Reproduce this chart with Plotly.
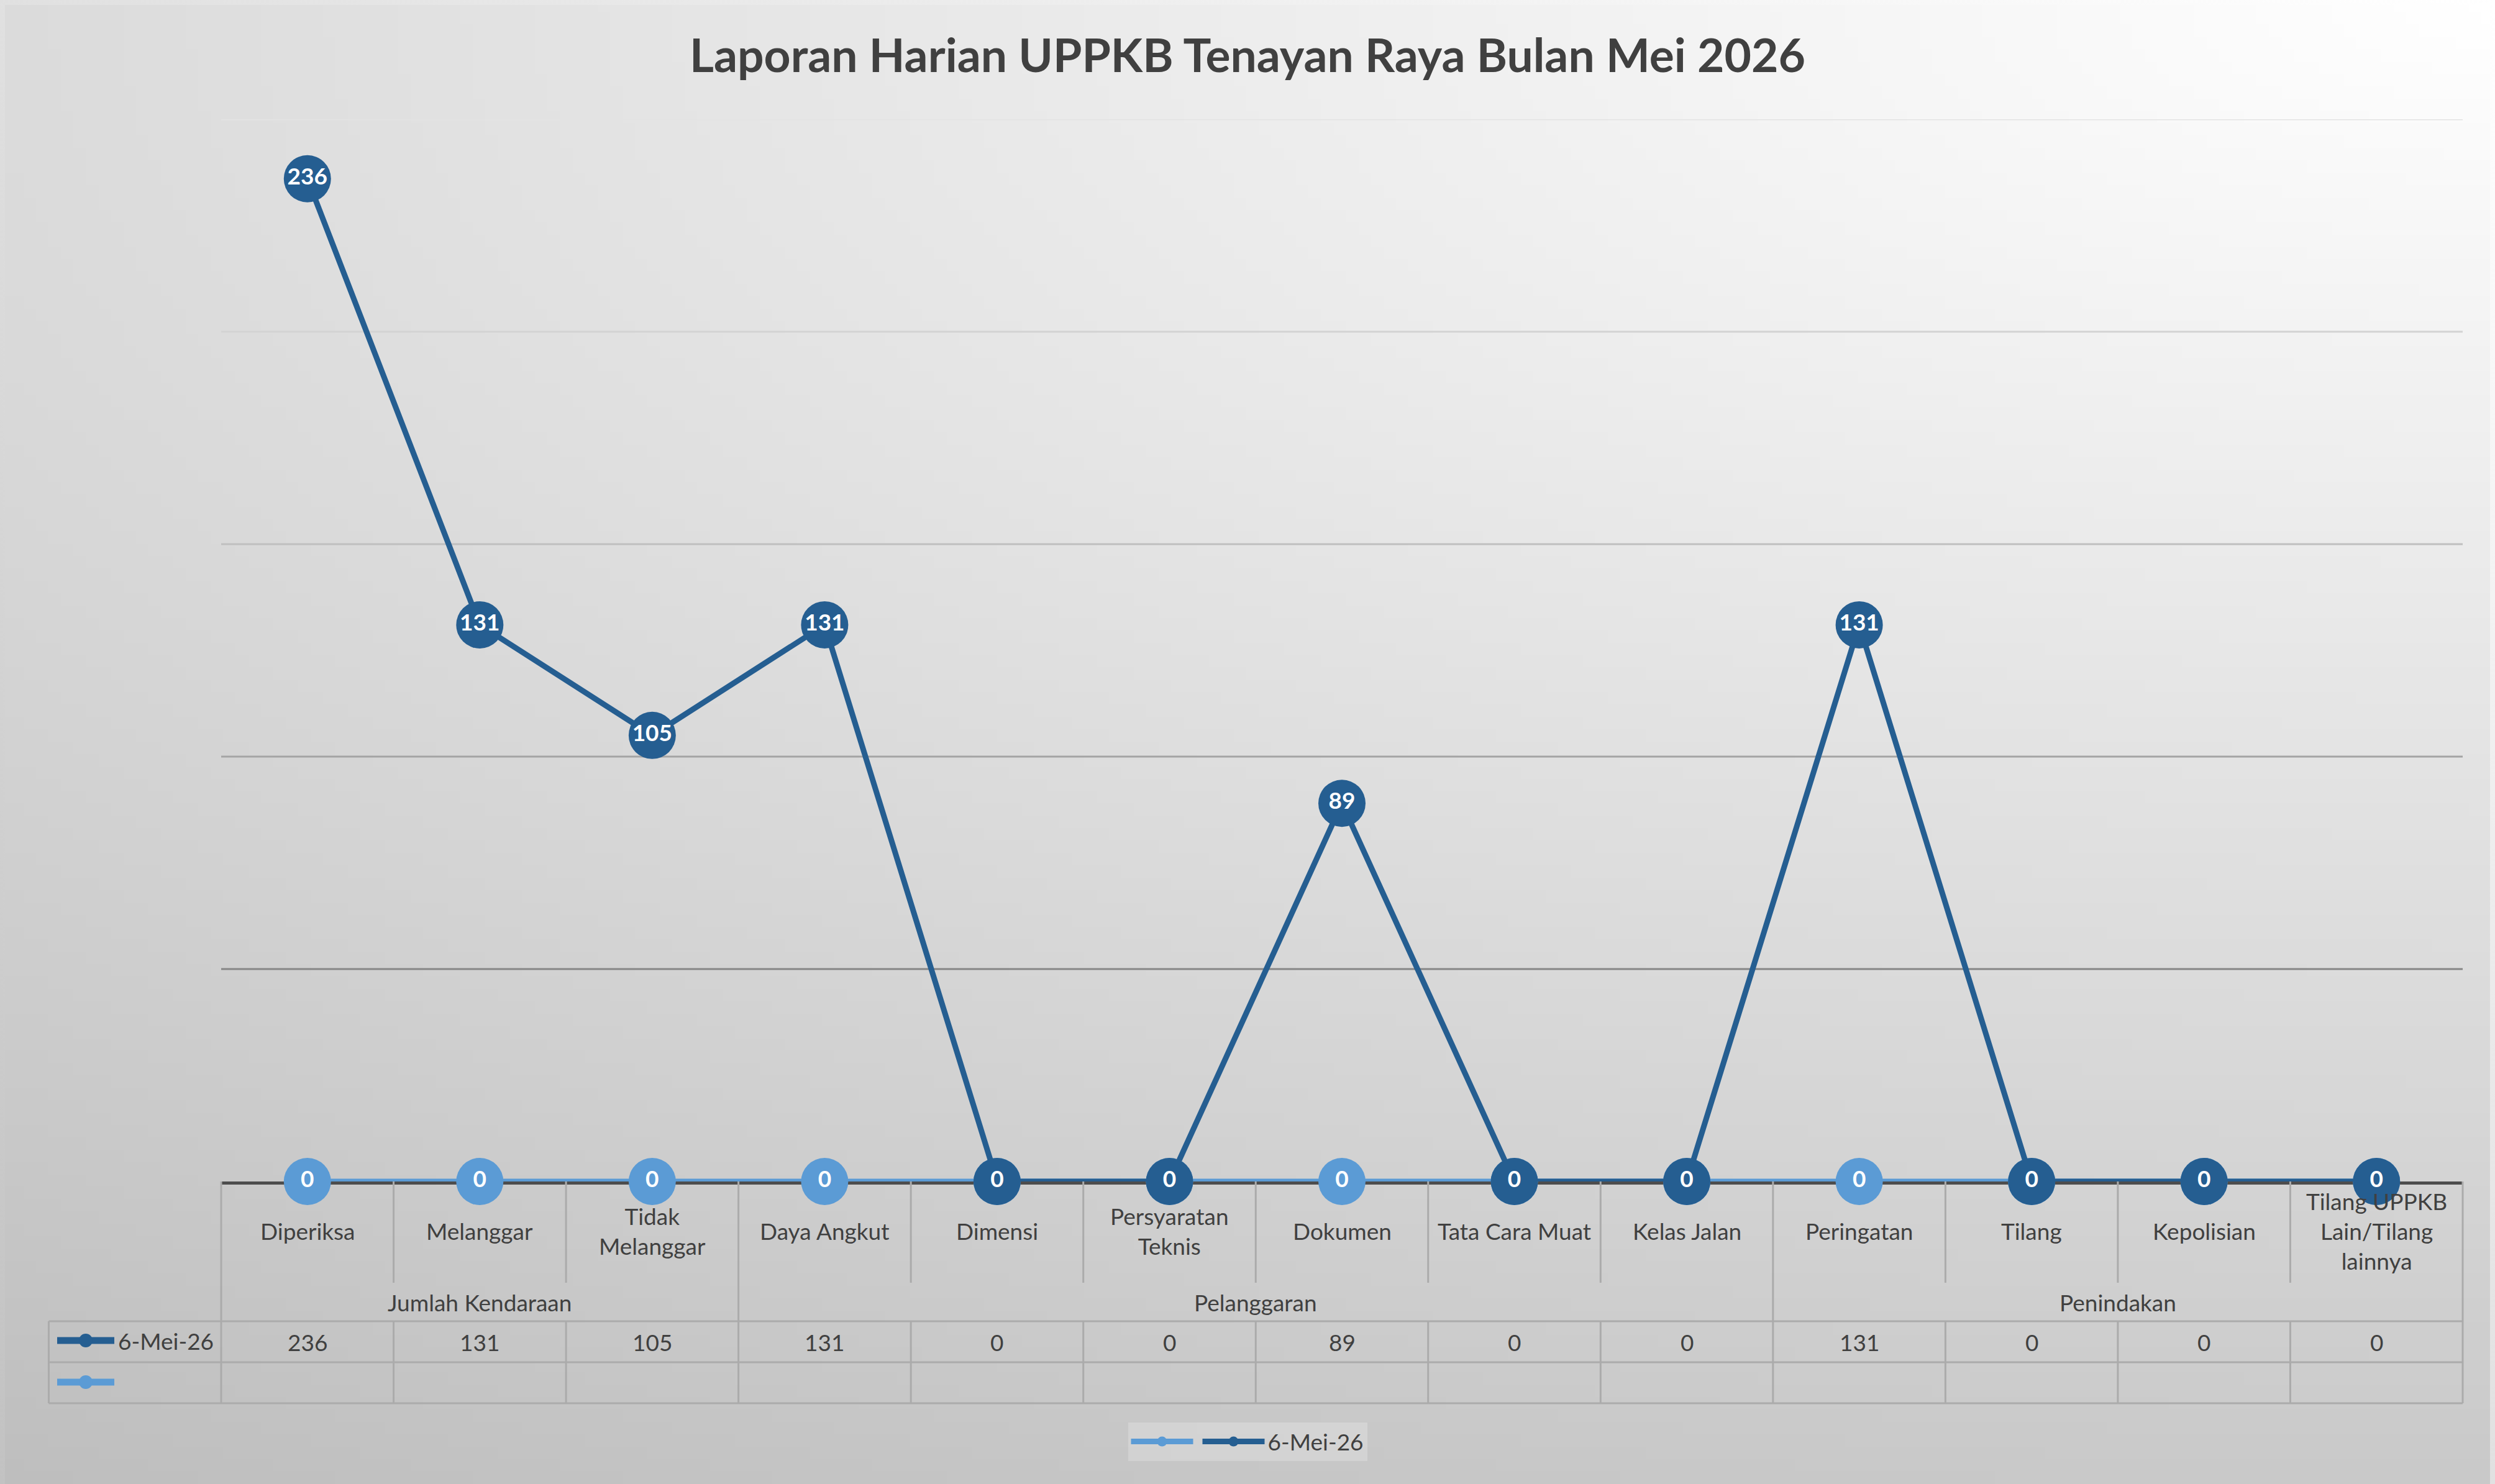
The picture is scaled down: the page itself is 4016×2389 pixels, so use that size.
import base64
import struct
import textwrap
import zlib

import plotly.graph_objects as go

# ---- data ----
categories = ["Diperiksa", "Melanggar", "Tidak Melanggar", "Daya Angkut", "Dimensi",
              "Persyaratan Teknis", "Dokumen", "Tata Cara Muat", "Kelas Jalan",
              "Peringatan", "Tilang", "Kepolisian", "Tilang UPPKB Lain/Tilang lainnya"]
group_names = ["Jumlah Kendaraan", "Pelanggaran", "Penindakan"]
group_sizes = [3, 6, 4]
series_name = "6-Mei-26"
daily_values = [236, 131, 105, 131, 0, 0, 89, 0, 0, 131, 0, 0, 0]
blank_values = [0, 0, 0, 0, 0, 0, 0, 0, 0, 0, 0, 0, 0]
grid_levels = [50, 100, 150, 200, 250]

title = "Laporan Harian UPPKB Tenayan Raya Bulan Mei 2026"

# ---- look ----
W, H = 4016, 2389
OFF = 8  # the page body margin pushes the figure this far right/down
ML, MT = 356 - OFF, 192 - OFF
PW, PH = 3608, 1710
MR, MB = W - ML - PW, H - MT - PH
DARK = "#255E91"
LIGHT = "#5B9BD5"
TEXT = "#404040"
TABLE_LINE = "#ababab"
FONT = "Lato, 'Open Sans', sans-serif"
LABEL_SIZE = 37
grid_colors = ["#868686", "#a4a4a4", "#bfbfbf", "#d3d3d3", "#e3e3e3"]
n = len(categories)


def py(p):
    # pixel row of the screenshot -> paper y
    return (MT + PH - (p - OFF)) / PH


def px(p):
    # pixel column of the screenshot -> paper x
    return (p - OFF - ML) / PW


def edge(k):
    # left edge of column k in paper x
    return k / n


def gradient_png(w, h):
    rows = []
    for j in range(h):
        v = j / (h - 1)
        row = bytearray([0])
        for i in range(w):
            u = i / (w - 1)
            d = ((1 - u) ** 2 + 2.25 * v ** 2) ** 0.5
            row.append(max(0, min(255, int(round(255 - 36 * d)))))
        rows.append(bytes(row))
    raw = b"".join(rows)

    def chunk(tag, data):
        return (struct.pack(">I", len(data)) + tag + data
                + struct.pack(">I", zlib.crc32(tag + data) & 0xffffffff))

    png = (b"\x89PNG\r\n\x1a\n"
           + chunk(b"IHDR", struct.pack(">IIBBBBB", w, h, 8, 0, 0, 0, 0))
           + chunk(b"IDAT", zlib.compress(raw, 9))
           + chunk(b"IEND", b""))
    return "data:image/png;base64," + base64.b64encode(png).decode()


fig = go.Figure()

for name, vals, color in [("", blank_values, LIGHT), (series_name, daily_values, DARK)]:
    fig.add_trace(go.Scatter(
        x=categories,
        y=vals,
        name=name,
        mode="lines+markers+text",
        line=dict(color=color, width=9),
        marker=dict(size=76, color=color),
        text=[str(v) for v in vals],
        textposition="middle center",
        textfont=dict(family=FONT, size=37, color="white", weight="bold"),
        cliponaxis=False,
        hoverinfo="skip",
    ))

shapes = []
# gridlines
for lvl, col in zip(grid_levels, grid_colors):
    shapes.append(dict(type="line", xref="paper", yref="y", x0=0, x1=1, y0=lvl, y1=lvl,
                       line=dict(color=col, width=3), layer="below"))

# category area + data table
bounds = [0]
for s in group_sizes:
    bounds.append(bounds[-1] + s)
line = dict(color=TABLE_LINE, width=3)
for k in range(n + 1):
    if k in bounds:
        shapes.append(dict(type="line", xref="paper", yref="paper", x0=edge(k), x1=edge(k),
                           y0=0, y1=py(2259), line=line))
    else:
        shapes.append(dict(type="line", xref="paper", yref="paper", x0=edge(k), x1=edge(k),
                           y0=0, y1=py(2065), line=line))
        shapes.append(dict(type="line", xref="paper", yref="paper", x0=edge(k), x1=edge(k),
                           y0=py(2127), y1=py(2259), line=line))
shapes.append(dict(type="line", xref="paper", yref="paper", x0=edge(-1), x1=edge(-1),
                   y0=py(2127), y1=py(2259), line=line))
for yy in [2127, 2193, 2259]:
    shapes.append(dict(type="line", xref="paper", yref="paper", x0=edge(-1), x1=1,
                       y0=py(yy), y1=py(yy), line=line))

# legend keys inside the table
for yy, col in [(2158, DARK), (2225, LIGHT)]:
    shapes.append(dict(type="line", xref="paper", yref="paper", x0=px(92), x1=px(184),
                       y0=py(yy), y1=py(yy), line=dict(color=col, width=11)))
    shapes.append(dict(type="circle", xref="paper", yref="paper",
                       x0=px(127), x1=px(149), y0=py(yy + 11), y1=py(yy - 11),
                       fillcolor=col, line=dict(width=0)))

annotations = []
for i, name in enumerate(categories):
    annotations.append(dict(x=i, y=py(1981), xref="x", yref="paper", showarrow=False,
                            text="<br>".join(textwrap.wrap(name, 14)), yanchor="middle",
                            font=dict(family=FONT, size=LABEL_SIZE, color=TEXT)))
    annotations.append(dict(x=i, y=py(2160), xref="x", yref="paper", showarrow=False,
                            text=str(daily_values[i]), yanchor="middle",
                            font=dict(family=FONT, size=LABEL_SIZE, color=TEXT)))
for g, name in enumerate(group_names):
    annotations.append(dict(x=bounds[g] + (group_sizes[g] - 1) / 2, y=py(2096), xref="x",
                            yref="paper", showarrow=False, text=name, yanchor="middle",
                            font=dict(family=FONT, size=LABEL_SIZE, color=TEXT)))
annotations.append(dict(x=px(188), y=py(2158), xref="paper", yref="paper", showarrow=False,
                        text=series_name, xanchor="left", yanchor="middle",
                        font=dict(family=FONT, size=LABEL_SIZE, color=TEXT)))

fig.update_layout(
    width=W,
    height=H,
    margin=dict(l=ML, r=MR, t=MT, b=MB),
    paper_bgcolor="#dedede",
    plot_bgcolor="rgba(0,0,0,0)",
    title=dict(text=title, xref="paper", x=px(W / 2), xanchor="center",
               y=1 - (90 - OFF) / H, yanchor="middle",
               font=dict(family=FONT, size=75, color=TEXT, weight="bold")),
    font=dict(family=FONT, size=LABEL_SIZE, color=TEXT),
    showlegend=True,
    legend=dict(orientation="h", x=px(W / 2), xanchor="center",
                y=py(2321), yanchor="middle",
                bgcolor="rgba(255,255,255,0.22)", font=dict(size=LABEL_SIZE, color=TEXT),
                itemwidth=100),
    xaxis=dict(type="category", range=[-0.5, n - 0.5], showticklabels=False, ticks="",
               showgrid=False, showline=True, linecolor="#4d4d4d", linewidth=5,
               layer="below traces", fixedrange=True),
    yaxis=dict(range=[0, 250], showticklabels=False, ticks="", showgrid=False,
               zeroline=False, fixedrange=True),
    shapes=shapes,
    annotations=annotations,
    images=[dict(source=gradient_png(200, 120), xref="paper", yref="paper",
                 x=-ML / PW, y=1 + MT / PH, sizex=W / PW, sizey=H / PH,
                 xanchor="left", yanchor="top", sizing="stretch", layer="below")],
)

# the thin page strip around the figure gets the same grey gradient
fig.write_html(
    "out.html",
    post_script="document.body.style.background = "
                "'linear-gradient(to bottom left, #ffffff, #c2c2c2)';",
)
